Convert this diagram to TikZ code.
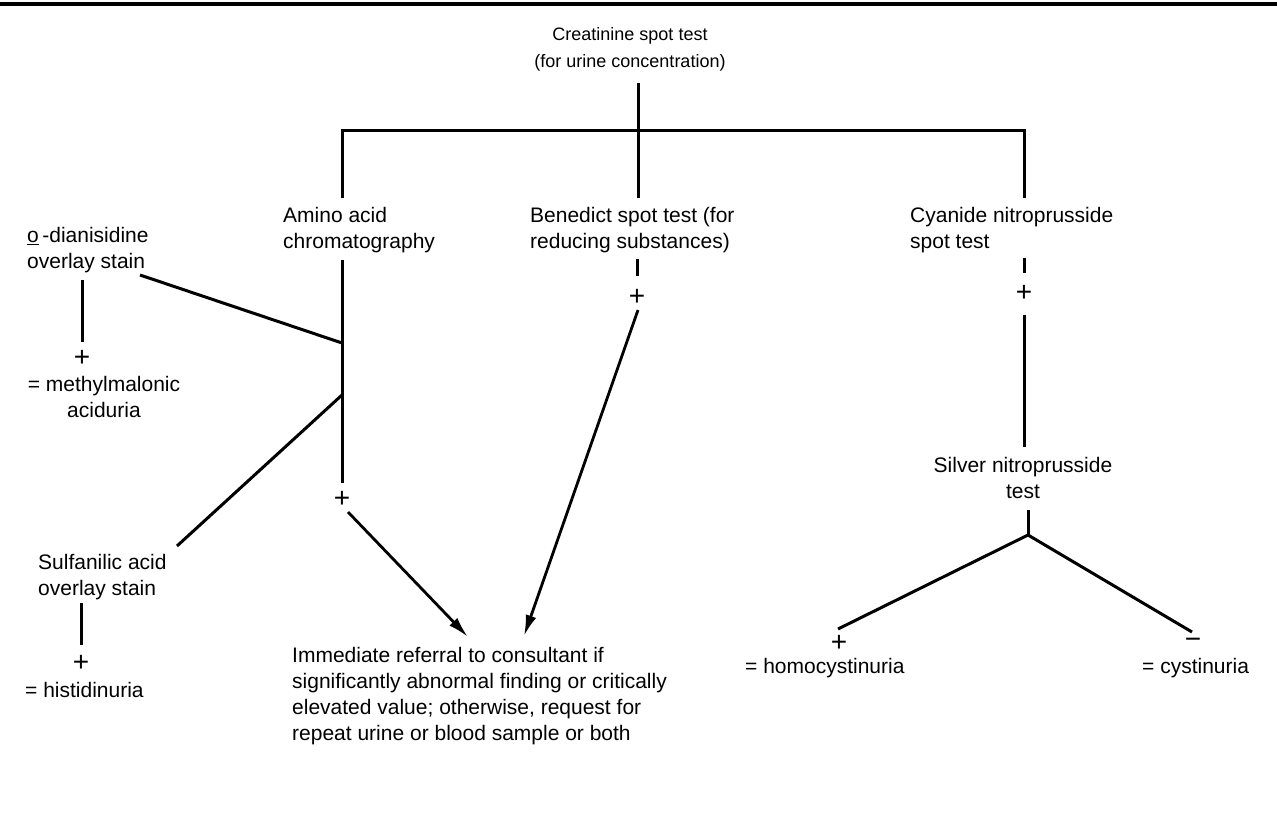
\documentclass[tikz,border=0pt]{standalone}
\usepackage{fontspec}
\setmainfont{Liberation Sans}
\usetikzlibrary{arrows.meta}
\begin{document}
\begin{tikzpicture}[x=1pt,y=-1pt,
  conn/.style={line width=3pt},
  arr/.style={line width=2.8pt,-{Latex[length=21pt,width=11pt]}},
  txt/.style={font=\fontsize{21}{26}\selectfont, inner sep=0pt, align=left, anchor=west},
  ctxt/.style={font=\fontsize{21}{26}\selectfont, inner sep=0pt, align=center},
  ttl/.style={font=\fontsize{18}{27}\selectfont, inner sep=0pt, align=center},
  sign/.style={font=\fontsize{28}{28}\selectfont, inner sep=0pt}]
\useasboundingbox (0,0) rectangle (1277,819);
% top rule
\coordinate (r1) at (0,4);
\coordinate (r2) at (1277,4);
\draw[line width=4.5pt] (r1) -- (r2);

% title
\node[ttl] (crea) at (630,49) {Creatinine spot test\\(for urine concentration)};
\coordinate (ctop) at (638,83);
\coordinate (cbar) at (638,130);
\coordinate (cbot) at (638,198);
\coordinate (lbar) at (342,130);
\coordinate (lbot) at (342,198);
\coordinate (rbar) at (1024,130);
\coordinate (rbot) at (1024,198);
\draw[conn] (ctop) -- (cbot);
\draw[conn] (lbot) -- (lbar) -- (rbar) -- (rbot);

% second row
\node[txt] (amino) at (283,230) {Amino acid\\chromatography};
\node[txt] (bene) at (530,230) {Benedict spot test (for\\reducing substances)};
\node[txt] (cyan) at (910,230) {Cyanide nitroprusside\\spot test};

% amino acid branch
\coordinate (a1) at (342,260);
\coordinate (j1) at (342,343);
\coordinate (j2) at (342,395);
\coordinate (a2) at (342,483);
\draw[conn] (a1) -- (a2);
\node[sign] (aplus) at (342,499) {+};

% o-dianisidine
\node[txt] (odia) at (27,250) {\underline{o}\,-dianisidine\\overlay stain};
\coordinate (o1) at (140,275);
\draw[conn] (o1) -- (j1);
\coordinate (o2) at (82,280);
\coordinate (o3) at (82,342);
\draw[conn] (o2) -- (o3);
\node[sign] (oplus) at (82,358) {+};
\node[ctxt] (mma) at (104,397) {= methylmalonic\\aciduria};

% sulfanilic
\node[txt] (sulf) at (38,577) {Sulfanilic acid\\overlay stain};
\coordinate (s1) at (177,546);
\draw[conn] (j2) -- (s1);
\coordinate (s2) at (81,603);
\coordinate (s3) at (81,645);
\draw[conn] (s2) -- (s3);
\node[sign] (splus) at (81,663) {+};
\node[txt] (hist) at (25,690) {= histidinuria};

% benedict
\coordinate (b1) at (637,259);
\coordinate (b2) at (637,276);
\draw[conn] (b1) -- (b2);
\node[sign] (bplus) at (637,297) {+};

% referral
\node[txt] (ref) at (292,696) {Immediate referral to consultant if\\significantly abnormal finding or critically\\elevated value; otherwise, request for\\repeat urine or blood sample or both};
\coordinate (t1) at (468,637);
\coordinate (t2) at (524,636);
\coordinate (a3) at (348,512);
\coordinate (b3) at (638,310);
\draw[arr] (a3) -- (t1);
\draw[arr] (b3) -- (t2);

% cyanide
\coordinate (c1) at (1024,258);
\coordinate (c2) at (1024,273);
\draw[conn] (c1) -- (c2);
\node[sign] (cplus) at (1024,293) {+};
\coordinate (c3) at (1024,315);
\coordinate (c4) at (1024,447);
\draw[conn] (c3) -- (c4);
\node[ctxt] (silver) at (1023,478) {Silver nitroprusside\\test};
\coordinate (v1) at (1028,510);
\coordinate (v2) at (1028,535);
\coordinate (hl) at (838,629);
\coordinate (hr) at (1192,632);
\draw[conn] (v1) -- (v2);
\draw[conn] (hl) -- (v2) -- (hr);
\node[sign] (hplus) at (839,643) {+};
\node[sign] (hminus) at (1193,643) {\char"2212};
\node[txt] (homo) at (745,668) {= homocystinuria};
\node[txt] (cyst) at (1142,668) {= cystinuria};
\end{tikzpicture}
\end{document}
